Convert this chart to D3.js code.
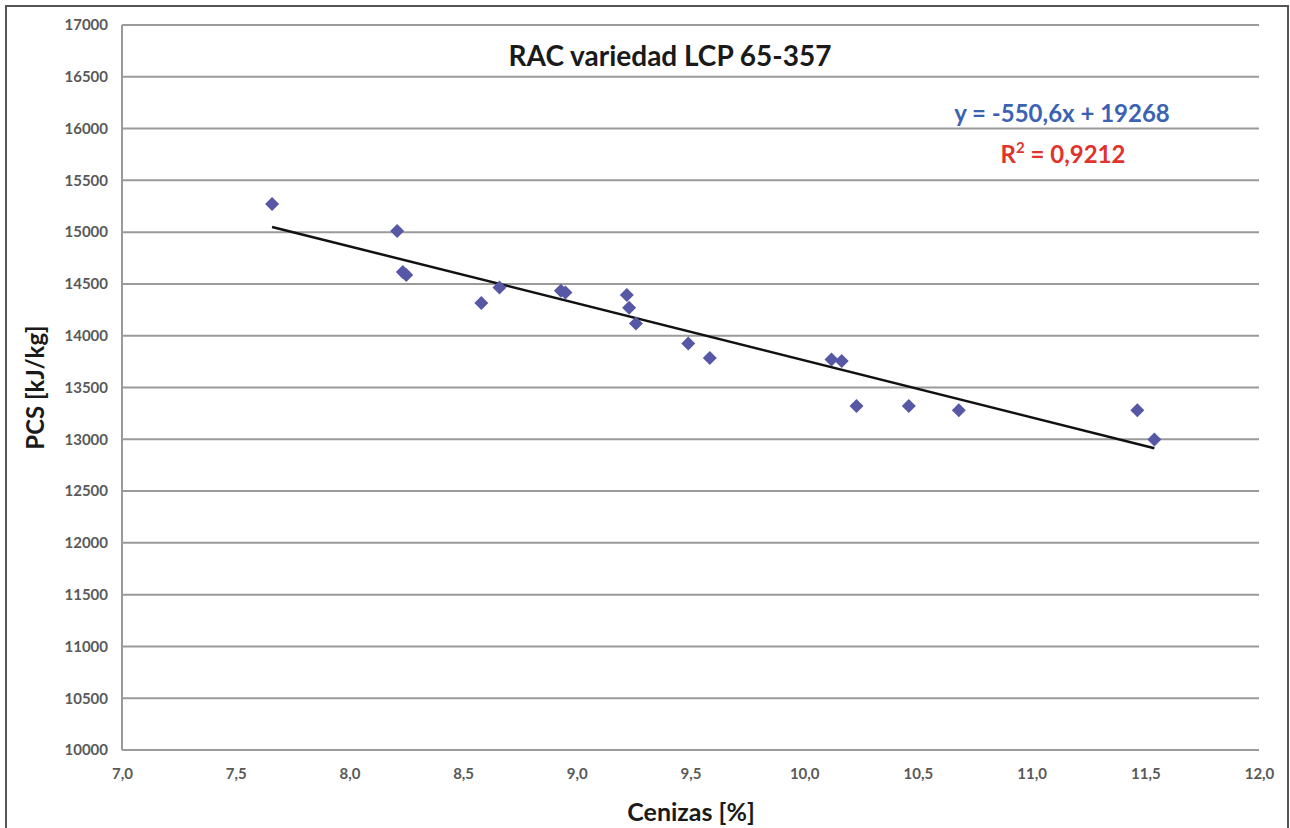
<!DOCTYPE html>
<html>
<head>
<meta charset="utf-8">
<script src="https://cdn.jsdelivr.net/npm/d3@7"></script>
<style>
  body { margin: 0; background: #fff; }
  svg text { font-family: Lato, "Open Sans", sans-serif; }
</style>
</head>
<body>
<svg id="chart" width="1290" height="828"></svg>
<script>
// ceniza [%] vs PCS [kJ/kg]
var cenizas = [7.66, 8.21, 8.235, 8.25, 8.58, 8.66, 8.93, 8.95, 9.22, 9.23,
               9.26, 9.49, 9.585, 10.12, 10.165, 10.23, 10.46, 10.68, 11.465, 11.54];
var pcs = [15272, 15011, 14614, 14585, 14317, 14466, 14433, 14417, 14392, 14269,
           14118, 13925, 13785, 13770, 13756, 13321, 13321, 13280, 13280, 12999];
var xTicks = [7.0, 7.5, 8.0, 8.5, 9.0, 9.5, 10.0, 10.5, 11.0, 11.5, 12.0];
var yTicks = [10000, 10500, 11000, 11500, 12000, 12500, 13000, 13500, 14000, 14500,
              15000, 15500, 16000, 16500, 17000];
var slope = -550.6, intercept = 19268;

var svg = d3.select("#chart");
var margin = {left: 122, right: 31, top: 25, bottom: 78};
var W = 1290, H = 828;

var x = d3.scaleLinear().domain([7, 12]).range([margin.left, W - margin.right]);
var y = d3.scaleLinear().domain([10000, 17000]).range([H - margin.bottom, margin.top]);

// outer frame
svg.append("rect")
  .attr("x", 6).attr("y", 6).attr("width", 1282).attr("height", 830)
  .attr("fill", "none").attr("stroke", "#555").attr("stroke-width", 2);

// gridlines
svg.append("g").selectAll("line")
  .data(yTicks).enter().append("line")
  .attr("x1", margin.left).attr("x2", W - margin.right)
  .attr("y1", function(d) { return y(d); }).attr("y2", function(d) { return y(d); })
  .attr("stroke", "#9a9a9a").attr("stroke-width", 2);

// left axis line
svg.append("line")
  .attr("x1", margin.left).attr("x2", margin.left)
  .attr("y1", y(17000)).attr("y2", y(10000))
  .attr("stroke", "#9a9a9a").attr("stroke-width", 2);

// axes (labels only)
var fmtX = function(d) { return d3.format(".1f")(d).replace(".", ","); };
var yAxis = svg.append("g")
  .attr("transform", "translate(" + margin.left + ",0)")
  .call(d3.axisLeft(y).tickValues(yTicks).tickSize(0).tickPadding(14).tickFormat(d3.format("d")));
var xAxis = svg.append("g")
  .attr("transform", "translate(0," + (H - margin.bottom) + ")")
  .call(d3.axisBottom(x).tickValues(xTicks).tickSize(0).tickPadding(18).tickFormat(fmtX));
[xAxis, yAxis].forEach(function(a) {
  a.select(".domain").remove();
  a.selectAll("text")
    .attr("fill", "#595959").attr("font-size", 15).attr("font-weight", "bold")
    .style("font-family", "Lato, sans-serif");
});

// trend line
var xr = d3.extent(cenizas);
svg.append("line")
  .attr("x1", x(xr[0])).attr("y1", y(slope * xr[0] + intercept))
  .attr("x2", x(xr[1])).attr("y2", y(slope * xr[1] + intercept))
  .attr("stroke", "#111").attr("stroke-width", 2.5);

// points
var diamond = d3.symbol().type(d3.symbolSquare).size(98);
svg.append("g").selectAll("path")
  .data(cenizas).enter().append("path")
  .attr("d", diamond)
  .attr("transform", function(d, i) {
    return "translate(" + x(d) + "," + y(pcs[i]) + ") rotate(45)";
  })
  .attr("fill", "#5658a6");

// titles
svg.append("text")
  .attr("x", 670).attr("y", 66).attr("text-anchor", "middle")
  .attr("font-size", 28).attr("font-weight", "bold").attr("fill", "#1a1a1a")
  .text("RAC variedad LCP 65-357");

svg.append("text")
  .attr("x", 1062).attr("y", 122).attr("text-anchor", "middle")
  .attr("font-size", 24).attr("font-weight", "bold").attr("fill", "#3b62b3")
  .text("y = -550,6x + 19268");

var r2 = svg.append("text")
  .attr("x", 1063).attr("y", 163).attr("text-anchor", "middle")
  .attr("font-size", 24).attr("font-weight", "bold").attr("fill", "#e0332b");
r2.append("tspan").text("R");
r2.append("tspan").attr("dy", -10).attr("font-size", 15).text("2");
r2.append("tspan").attr("dy", 10).text(" = 0,9212");

svg.append("text")
  .attr("transform", "translate(44," + (y(13500)) + ") rotate(-90)")
  .attr("text-anchor", "middle")
  .attr("font-size", 24).attr("font-weight", "bold").attr("fill", "#1a1a1a")
  .text("PCS [kJ/kg]");

svg.append("text")
  .attr("x", 691).attr("y", 821).attr("text-anchor", "middle")
  .attr("font-size", 25).attr("font-weight", "bold").attr("fill", "#1a1a1a")
  .text("Cenizas [%]");
</script>
</body>
</html>
